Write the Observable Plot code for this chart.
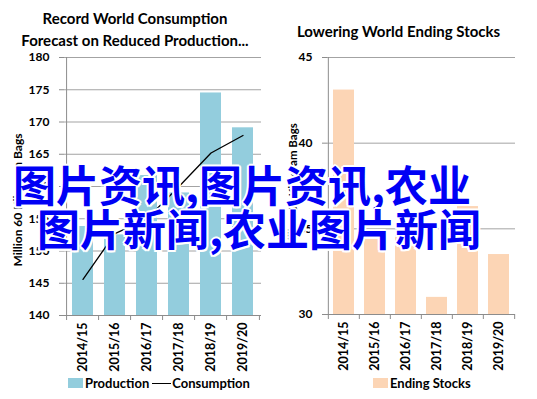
<!DOCTYPE html>
<html>
<head>
<meta charset="utf-8">
<script src="https://cdn.jsdelivr.net/npm/d3@7"></script>
<script src="https://cdn.jsdelivr.net/npm/@observablehq/plot@0.6"></script>
<style>
  html, body { margin: 0; padding: 0; background: #fff; }
  #root { position: relative; width: 537px; height: 399px; overflow: hidden; font-family: Lato, "Open Sans", sans-serif; font-weight: bold; color: #000; }
  .abs { position: absolute; }
  .title { font-size: 15px; line-height: 22px; text-align: center; white-space: nowrap; }
  .ylab { white-space: nowrap; transform: translate(-50%, -50%) rotate(-90deg); }
  .legend { display: flex; align-items: center; height: 16px; font-size: 13px; white-space: nowrap; }
  .sw { width: 15px; height: 10px; margin-right: 2px; }
  .ln { width: 19px; height: 0; border-top: 1.5px solid #000; margin: 0 1px 0 3px; }
  .wm { font-family: "Noto Sans CJK SC", sans-serif; font-weight: bold; font-size: 43px; line-height: 44px; color: #0000f5; white-space: nowrap; z-index: 10;
        text-shadow: -2px 0 0 #fff, 2px 0 0 #fff, 0 -2px 0 #fff, 0 2px 0 #fff, -1.5px -1.5px 0 #fff, 1.5px -1.5px 0 #fff, -1.5px 1.5px 0 #fff, 1.5px 1.5px 0 #fff; }
  svg { overflow: visible; }
</style>
</head>
<body>
<div id="root">
  <div class="abs title" style="left:0; width:270px; top:7px;">Record World Consumption<br>Forecast on Reduced Production...</div>
  <div class="abs title" style="left:270px; width:257px; top:20px;">Lowering World Ending Stocks</div>
  <div id="left" class="abs" style="left:0; top:50px;"></div>
  <div id="right" class="abs" style="left:270px; top:50px;"></div>
  <div class="abs ylab" style="left:17px; top:200px; font-size:12px;">Million 60 Kilogram Bags</div>
  <div class="abs ylab" style="left:292px; top:187px; font-size:11.5px;">Million 60 Kilogram Bags</div>
  <div class="abs legend" style="left:68px; top:375px;"><div class="sw" style="background:#93cddd"></div>Production<div class="ln"></div>Consumption</div>
  <div class="abs legend" style="left:373px; top:375px;"><div class="sw" style="background:#fcd5b5"></div>Ending Stocks</div>
  <div class="abs wm" style="left:13px; top:161px;">图片资讯,图片资讯,农业</div>
  <div class="abs wm" style="left:37px; top:205px;">图片新闻,农业图片新闻</div>
</div>
<script>
const years = ["2014/15", "2015/16", "2016/17", "2017/18", "2018/19", "2019/20"];
const production = [153.8, 152.5, 161.7, 159.0, 174.5, 169.1];
const consumption = [145.6, 152.7, 155.0, 160.0, 165.2, 167.9];
const endingStocks = [43.1, 34.4, 34.6, 31.0, 36.3, 33.5];
const leftTicks = [140, 145, 150, 155, 160, 165, 170, 175, 180];
const rightTicks = [30, 35, 40, 45];

const gridColor = "#a3a3a3";
const axisColor = "#8c8c8c";

function makeChart({width, height, mt, mb, ml, mr, ticks, bars, fill, line}) {
  const y0 = ticks[0], y1 = ticks[ticks.length - 1];
  const half = (width - ml - mr) / years.length / 2;
  const tickLen = 5 * (y1 - y0) / (height - mt - mb);
  const rows = years.map((year, i) => ({year, v: bars[i], c: line ? line[i] : null}));
  const marks = [
    Plot.ruleY(ticks.slice(1), {stroke: gridColor}),
    Plot.barY(rows, {x: "year", y1: y0, y2: "v", fill}),
    Plot.ruleY([y0], {stroke: axisColor}),
    Plot.ruleX([years[0]], {dx: -half, stroke: axisColor}),
    Plot.ruleX(years, {x: d => d, y1: y0, y2: y0 - tickLen, dx: -half, stroke: axisColor}),
    Plot.ruleX([years[years.length - 1]], {x: d => d, y1: y0, y2: y0 - tickLen, dx: half, stroke: axisColor}),
  ];
  if (line) marks.push(Plot.line(rows, {x: "year", y: "c", stroke: "#000", strokeWidth: 1.3}));
  marks.push(
    Plot.axisY({ticks, tickSize: 5, tickPadding: 10, stroke: axisColor, fill: "#000", label: null, fontSize: 12}),
    Plot.axisX({tickRotate: -90, tickSize: 0, tickPadding: 7, label: null, fill: "#000", fontSize: 12.5})
  );
  return Plot.plot({
    width, height, marginTop: mt, marginBottom: mb, marginLeft: ml, marginRight: mr,
    style: {fontFamily: "Lato, sans-serif", fontWeight: "bold", fontSize: "12px", background: "transparent", color: "#000", overflow: "visible"},
    x: {domain: years, paddingInner: 0.33, paddingOuter: 0.165, align: 0.5},
    y: {domain: [y0, y1]},
    marks
  });
}

document.getElementById("left").append(makeChart({
  width: 270, height: 325, mt: 7, mb: 60, ml: 64, mr: 9,
  ticks: leftTicks, bars: production, fill: "#93cddd", line: consumption
}));
document.getElementById("right").append(makeChart({
  width: 267, height: 325, mt: 7, mb: 61, ml: 57, mr: 22,
  ticks: rightTicks, bars: endingStocks, fill: "#fcd5b5", line: null
}));
</script>
</body>
</html>
